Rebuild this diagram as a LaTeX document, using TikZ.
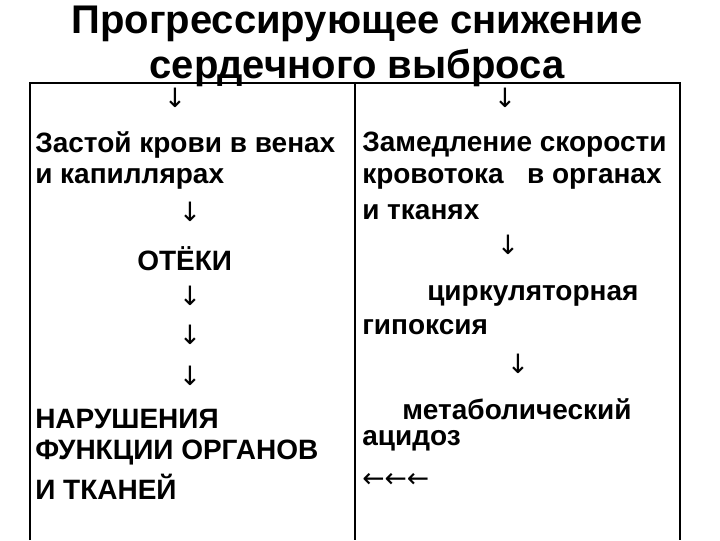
\documentclass[tikz,border=0pt]{standalone}
\usepackage{fontspec}
\setmainfont{Liberation Sans}
\newfontfamily\arr{DejaVu Sans}
\begin{document}
\begin{tikzpicture}[x=0.75pt,y=-0.75pt,
  txt/.style={anchor=west,inner sep=0pt,font=\fontsize{21}{21}\selectfont\bfseries},
  arrw/.style={inner sep=0pt,font=\arr\fontsize{20}{20}\selectfont},
  ttl/.style={inner sep=0pt,font=\fontsize{30}{30}\selectfont\bfseries}]
\useasboundingbox (0,0) rectangle (720,540);
\node[ttl] (t1) at (357,24) {Прогрессирующее снижение};
\node[ttl] (t2) at (357,68) {сердечного выброса};
\draw[line width=1.3pt] (30,540) -- (30,83) -- (680,83) -- (680,540);
\draw[line width=0.8pt] (355,83) -- (355,540);
\node[arrw] (a1) at (175,98) {↓};
\node[arrw] (a2) at (505,98) {↓};
\node[txt] (l1) at (35,145) {Застой крови в венах};
\node[txt] (l2) at (35,179) {и капиллярах};
\node[arrw] (a3) at (190,212) {↓};
\node[txt] (l3) at (137,259) {ОТЁКИ};
\node[arrw] (a4) at (190,296) {↓};
\node[arrw] (a5) at (190,335) {↓};
\node[arrw] (a6) at (190,376) {↓};
\node[txt] (l4) at (35,419) {НАРУШЕНИЯ};
\node[txt] (l5) at (35,453) {ФУНКЦИИ ОРГАНОВ};
\node[txt] (l6) at (35,487) {И ТКАНЕЙ};
\node[txt] (r1) at (362,145) {Замедление скорости};
\node[txt] (r2) at (362,179) {кровотока\ \ \ в органах};
\node[txt] (r3) at (362,212) {и тканях};
\node[arrw] (a7) at (508,245) {↓};
\node[txt] (r4) at (427,296) {циркуляторная};
\node[txt] (r5) at (362,327) {гипоксия};
\node[arrw] (a8) at (518,364) {↓};
\node[txt] (r6) at (402,409) {метаболический};
\node[txt] (r7) at (362,441) {ацидоз};
\node[arrw,anchor=west] (r8) at (362,480) {←←←};
\end{tikzpicture}
\end{document}
